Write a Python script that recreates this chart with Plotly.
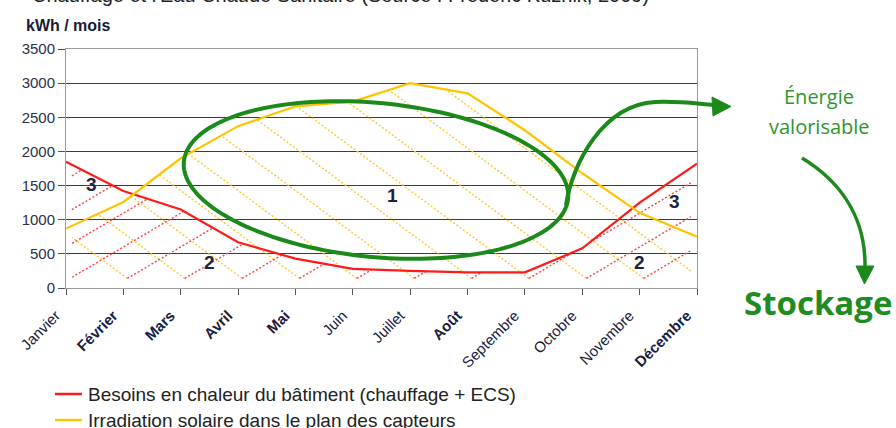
import numpy as np
import plotly.graph_objects as go

# Monthly values (kWh / mois)
mois = ["Janvier", "Février", "Mars", "Avril", "Mai", "Juin", "Juillet",
        "Août", "Septembre", "Octobre", "Novembre", "Décembre"]
besoins = [1850, 1420, 1150, 670, 430, 280, 250, 230, 230, 580, 1250, 1820]
irradiation = [870, 1260, 1900, 2370, 2660, 2730, 3000, 2850, 2310, 1680, 1100, 750]
y_ticks = [0, 500, 1000, 1500, 2000, 2500, 3000, 3500]
bold_months = {"Février", "Mars", "Avril", "Mai", "Août", "Décembre"}
series_names = ["Besoins en chaleur du bâtiment (chauffage + ECS)",
                "Irradiation solaire dans le plan des capteurs"]

RED = "#ff1a1a"
YELLOW = "#ffc400"
GREEN = "#1b8a1b"

W, H = 896, 428
MARGIN = dict(l=66, r=199, t=49, b=140)
PW = W - MARGIN["l"] - MARGIN["r"]
PH = H - MARGIN["t"] - MARGIN["b"]
X_MAX = len(mois) - 1
Y_MAX = y_ticks[-1]
SX = PW / X_MAX          # pixels per month
SY = PH / Y_MAX          # pixels per kWh


def px_x(px):
    """Horizontal pixel -> paper coordinate."""
    return (px - MARGIN["l"]) / PW


def px_y(py):
    """Vertical pixel (from top) -> paper coordinate."""
    return (H - MARGIN["b"] - py) / PH


def hatch(curve, slope, direction, base_y, x_lo, x_hi):
    """Parallel dotted hatch lines, clipped to the area under `curve`."""
    xm = np.arange(len(curve))
    xs, ys = [], []
    t = np.arange(0, 700, 0.5)
    for k in range(-8, 20):
        x0 = k + 0.07
        x = x0 + direction * t / SX
        y = base_y + t * slope / SY
        ok = (x >= x_lo) & (x <= x_hi) & (y <= np.interp(x, xm, curve))
        if not ok.any():
            continue
        edges = np.diff(np.concatenate([[0], ok.astype(int), [0]]))
        starts = np.where(edges == 1)[0]
        ends = np.where(edges == -1)[0]
        for s, e in zip(starts, ends):
            if e - s < 2:
                continue
            xs.extend(x[s:e].tolist() + [None])
            ys.extend(y[s:e].tolist() + [None])
    return xs, ys


fig = go.Figure()

# hatching under the solar curve ("\") and under the needs curve ("/")
hx, hy = hatch(irradiation, 0.74, -1, 140, 0.1, 10.9)
fig.add_trace(go.Scatter(x=hx, y=hy, mode="lines", showlegend=False, hoverinfo="skip",
                         line=dict(color="#ffc832", width=1.4, dash="2px,2px")))
hx, hy = hatch(besoins, 0.59, 1, 140, 0.1, 10.9)
fig.add_trace(go.Scatter(x=hx, y=hy, mode="lines", showlegend=False, hoverinfo="skip",
                         line=dict(color="#ff4040", width=1.4, dash="2px,2px")))

fig.add_trace(go.Scatter(x=list(range(len(mois))), y=besoins, mode="lines",
                         name=series_names[0], showlegend=False,
                         line=dict(color=RED, width=2.2)))
fig.add_trace(go.Scatter(x=list(range(len(mois))), y=irradiation, mode="lines",
                         name=series_names[1], showlegend=False,
                         line=dict(color=YELLOW, width=2.2)))


def note(x, y, text, size, color, family="Liberation Sans", xanchor="center", ref="paper"):
    return dict(x=x, y=y, xref=ref, yref=ref, text=text, showarrow=False,
                xanchor=xanchor, yanchor="middle",
                font=dict(family=family, size=size, color=color))


# region labels
regions = [("1", 5.7, 1350), ("2", 2.5, 370), ("2", 10.0, 370), ("3", 0.45, 1510), ("3", 10.6, 1260)]
annotations = [note(rx, ry, f"<b>{txt}</b>", 19, "#1c2340", ref="x") for txt, rx, ry in regions]
for a_ in annotations:
    a_["yref"] = "y"

# unit label and caption running off the top edge
annotations.append(note(px_x(24), px_y(26), "<b>kWh / mois</b>", 16, "#1a1a30", xanchor="left"))
annotations.append(note(px_x(651), px_y(-5),
                        "Chauffage et l'Eau Chaude Sanitaire (Source : Frédéric Kuznik, 2009)",
                        20, "#222222", xanchor="right"))

# green commentary text
annotations.append(note(px_x(819), px_y(96), "Énergie", 20, "#2e962e", family="Open Sans"))
annotations.append(note(px_x(819), px_y(126), "valorisable", 20, "#2e962e", family="Open Sans"))
annotations.append(note(px_x(818), px_y(302), "<b>Stockage</b>", 33, "#1e8c1e", family="Open Sans"))

# hand-made legend below the axis
legend_rows = [(series_names[0], RED, 394), (series_names[1], YELLOW, 420)]
shapes = []
for name, col, yy in legend_rows:
    shapes.append(dict(type="line", xref="paper", yref="paper", x0=px_x(55), x1=px_x(82),
                       y0=px_y(yy), y1=px_y(yy), line=dict(color=col, width=2.5)))
    annotations.append(note(px_x(86), px_y(yy), name, 19, "#222222", xanchor="left"))

# ellipse around the surplus area
cx, cy, a, b, th = 376, 180, 193, 77, np.radians(5.5)
tt = np.linspace(0, 2 * np.pi, 181)
ex = cx + a * np.cos(tt) * np.cos(th) - b * np.sin(tt) * np.sin(th)
ey = cy + a * np.cos(tt) * np.sin(th) + b * np.sin(tt) * np.cos(th)
ell = "M " + " L ".join(f"{px_x(u):.5f},{px_y(v):.5f}" for u, v in zip(ex, ey)) + " Z"


def pth(cmds):
    out = []
    for c in cmds:
        if isinstance(c, str):
            out.append(c)
        else:
            out.append(f"{px_x(c[0]):.5f},{px_y(c[1]):.5f}")
    return " ".join(out)


tail = pth(["M", (566, 205), "C", (572, 165), (602, 105), (655, 102), "C", (682, 101), (698, 104), (714, 105)])
head1 = pth(["M", (731, 106.5), "L", (712, 97), "L", (713, 116), "Z"])
arc2 = pth(["M", (802, 158), "C", (838, 180), (866, 215), (865, 268)])
head2 = pth(["M", (864.5, 284), "L", (856, 266), "L", (874, 266), "Z"])

shapes += [
    dict(type="path", path=ell, xref="paper", yref="paper", line=dict(color=GREEN, width=4)),
    dict(type="path", path=tail, xref="paper", yref="paper", line=dict(color=GREEN, width=4)),
    dict(type="path", path=head1, xref="paper", yref="paper", line=dict(color=GREEN, width=1),
         fillcolor=GREEN),
    dict(type="path", path=arc2, xref="paper", yref="paper", line=dict(color=GREEN, width=3.5)),
    dict(type="path", path=head2, xref="paper", yref="paper", line=dict(color=GREEN, width=1),
         fillcolor=GREEN),
]

ticktext = [f"<b>{m}</b>" if m in bold_months else m for m in mois]

fig.update_layout(
    width=W, height=H, margin=MARGIN, showlegend=False,
    paper_bgcolor="white", plot_bgcolor="white",
    font=dict(family="Liberation Sans", color="#1a2040"),
    annotations=annotations, shapes=shapes,
    xaxis=dict(range=[0, X_MAX], tickmode="array", tickvals=list(range(len(mois))),
               ticktext=ticktext, tickangle=-45, showgrid=False, zeroline=False,
               showline=True, linecolor="#9a9a9a", mirror=True, ticks="outside",
               ticklen=6, tickcolor="#555555", automargin=False,
               ticklabelshift=-10, ticklabelstandoff=6,
               tickfont=dict(size=15, color="#1a2040")),
    yaxis=dict(range=[0, Y_MAX], tickvals=y_ticks, showgrid=True, gridcolor="#3c3c3c",
               gridwidth=1, zeroline=False, showline=True, linecolor="#9a9a9a", mirror=True,
               ticks="outside", ticklen=7, tickcolor="#555555", automargin=False,
               tickfont=dict(size=15, color="#2a3050")),
)

fig.write_html("out.html")
